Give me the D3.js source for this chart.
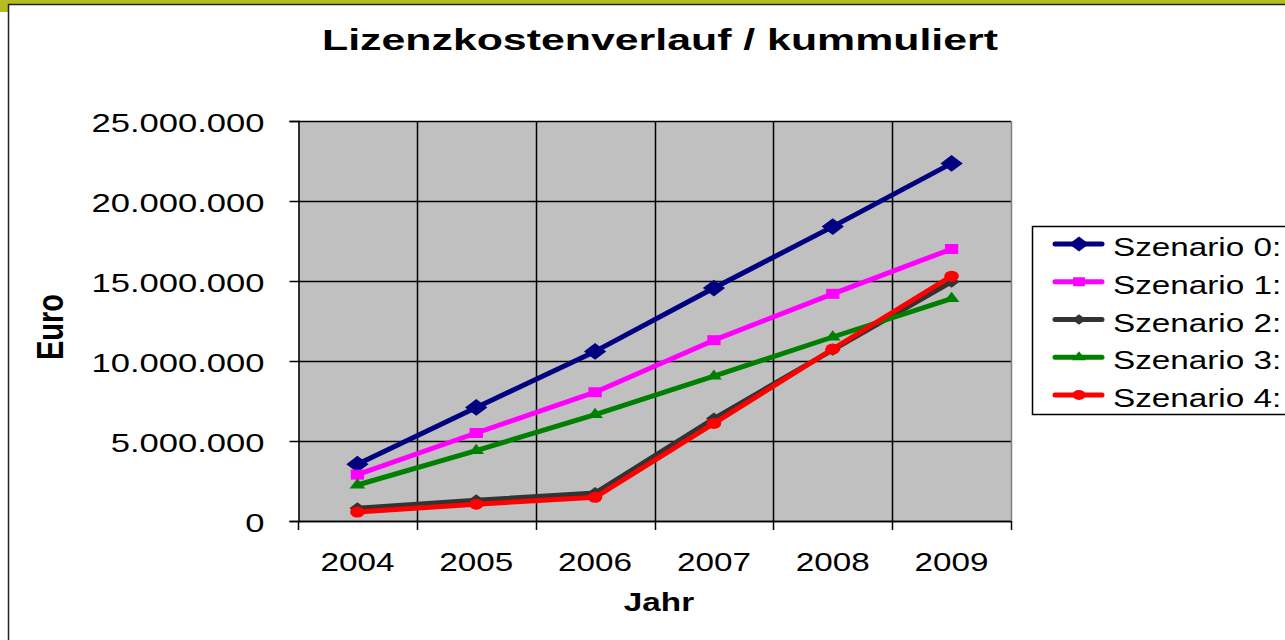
<!DOCTYPE html>
<html>
<head>
<meta charset="utf-8">
<script src="https://cdn.jsdelivr.net/npm/d3@7"></script>
<style>
  html, body { margin: 0; padding: 0; background: #fff; }
  svg { display: block; font-family: "Liberation Sans", Arial, sans-serif; }
</style>
</head>
<body>
<svg id="chart" width="1285" height="640"></svg>
<script>
// data
const years = ['2004', '2005', '2006', '2007', '2008', '2009'];
const seriesNames = ['Szenario 0:', 'Szenario 1:', 'Szenario 2:', 'Szenario 3:', 'Szenario 4:'];
const szenario0 = [3550000, 7100000, 10600000, 14560000, 18400000, 22350000];
const szenario1 = [2900000, 5500000, 8050000, 11300000, 14200000, 17000000];
const szenario2 = [800000, 1300000, 1750000, 6400000, 10700000, 14950000];
const szenario3 = [2250000, 4400000, 6650000, 9050000, 11500000, 13900000];
const szenario4 = [560000, 1050000, 1480000, 6100000, 10750000, 15300000];
const yTicks = [0, 5000000, 10000000, 15000000, 20000000, 25000000];

const COLORS = ['#000080', '#ff00ff', '#333333', '#008000', '#ff0000'];
const SYMBOLS = [d3.symbolSquare, d3.symbolSquare, d3.symbolSquare, d3.symbolTriangle, d3.symbolCircle];
const SYM_SIZE = [140, 100, 72, 60, 95];
const SYM_ROT = [45, 0, 45, 0, 0];

// the whole picture is a bit wider than tall
const SX = 1.33;

const series = seriesNames.map((name, i) => ({
    name: name,
    values: [szenario0, szenario1, szenario2, szenario3, szenario4][i],
    color: COLORS[i],
    symbol: SYMBOLS[i],
    size: SYM_SIZE[i],
    rot: SYM_ROT[i]
}));

const root = d3.select('#chart');

const PLOT_LEFT = 298;
const PLOT_RIGHT = 1011;
const PLOT_TOP = 121;
const PLOT_BOTTOM = 521;

function stretch(sel, factor) {
    sel.each(function () {
        const w = this.getComputedTextLength();
        d3.select(this)
            .attr('textLength', w * factor)
            .attr('lengthAdjust', 'spacingAndGlyphs');
    });
}

function markerTransform(cx, cy, s) {
    return `translate(${cx},${cy}) scale(${SX},1) rotate(${s.rot})`;
}

// frame
root.append('rect')
    .attr('x', 0).attr('y', 0).attr('width', 1285).attr('height', 4)
    .attr('fill', '#b4bf1e');
root.append('rect')
    .attr('x', 0).attr('y', 0).attr('width', 8).attr('height', 12)
    .attr('fill', '#b4bf1e');
root.append('rect')
    .attr('x', 8.5).attr('y', 4.5).attr('width', 1290).attr('height', 650)
    .attr('fill', '#fff')
    .attr('stroke', '#222')
    .attr('stroke-width', 1.5);

const x = d3.scaleBand()
    .domain(years)
    .range([PLOT_LEFT, PLOT_RIGHT]);

const y = d3.scaleLinear()
    .domain([0, 25000000])
    .range([PLOT_BOTTOM, PLOT_TOP]);

// plot background
root.append('rect')
    .attr('x', PLOT_LEFT).attr('y', PLOT_TOP)
    .attr('width', PLOT_RIGHT - PLOT_LEFT).attr('height', PLOT_BOTTOM - PLOT_TOP)
    .attr('fill', '#c0c0c0');

// grid lines
root.append('g')
    .selectAll('line')
    .data(yTicks)
    .join('line')
    .attr('x1', PLOT_LEFT).attr('x2', PLOT_RIGHT)
    .attr('y1', d => Math.round(y(d)) + 0.5).attr('y2', d => Math.round(y(d)) + 0.5)
    .attr('stroke', '#000').attr('stroke-width', 1.5);

root.append('g')
    .selectAll('line')
    .data(years.slice(1))
    .join('line')
    .attr('x1', d => Math.round(x(d)) + 0.5).attr('x2', d => Math.round(x(d)) + 0.5)
    .attr('y1', PLOT_TOP).attr('y2', PLOT_BOTTOM)
    .attr('stroke', '#000').attr('stroke-width', 1.5);

root.append('line')
    .attr('x1', PLOT_RIGHT + 0.5).attr('x2', PLOT_RIGHT + 0.5)
    .attr('y1', PLOT_TOP).attr('y2', PLOT_BOTTOM)
    .attr('stroke', '#808080').attr('stroke-width', 1.5);

// y axis
const yAxis = d3.axisLeft(y)
    .tickValues(yTicks)
    .tickSize(9)
    .tickPadding(25)
    .tickFormat(d => d3.format(',')(d).replace(/,/g, '.'));

const gy = root.append('g')
    .attr('transform', `translate(${PLOT_LEFT + 0.5},0)`)
    .call(yAxis);
gy.selectAll('text')
    .attr('font-size', 26)
    .attr('fill', '#000')
    .attr('dy', 10)
    .attr('font-family', '"Liberation Sans", Arial, sans-serif')
    .call(stretch, SX);
gy.selectAll('line, path').attr('stroke', '#000').attr('stroke-width', 1.5);

// x axis
const xEdges = years.map(d => x(d)).concat([PLOT_RIGHT]);
const gx = root.append('g');
gx.append('line')
    .attr('x1', PLOT_LEFT).attr('x2', PLOT_RIGHT)
    .attr('y1', PLOT_BOTTOM + 0.5).attr('y2', PLOT_BOTTOM + 0.5)
    .attr('stroke', '#000').attr('stroke-width', 1.5);
gx.selectAll('line.tick')
    .data(xEdges)
    .join('line')
    .attr('class', 'tick')
    .attr('x1', d => Math.round(d) + 0.5).attr('x2', d => Math.round(d) + 0.5)
    .attr('y1', PLOT_BOTTOM).attr('y2', PLOT_BOTTOM + 9)
    .attr('stroke', '#000').attr('stroke-width', 1.5);
gx.selectAll('text')
    .data(years)
    .join('text')
    .text(d => d)
    .attr('x', d => x(d) + x.bandwidth() / 2)
    .attr('y', 571)
    .attr('text-anchor', 'middle')
    .attr('font-size', 25)
    .attr('fill', '#000')
    .call(stretch, SX);

// lines + markers
const line = d3.line()
    .x((d, i) => x(years[i]) + x.bandwidth() / 2)
    .y(d => y(d));

series.forEach(s => {
    const g = root.append('g');
    g.append('path')
        .datum(s.values)
        .attr('d', line)
        .attr('fill', 'none')
        .attr('stroke', s.color)
        .attr('stroke-width', 5)
        .attr('stroke-linejoin', 'round');
    g.selectAll('path.m')
        .data(s.values)
        .join('path')
        .attr('class', 'm')
        .attr('transform', (d, i) => markerTransform(x(years[i]) + x.bandwidth() / 2, y(d), s))
        .attr('d', d3.symbol().type(s.symbol).size(s.size))
        .attr('fill', s.color);
});

// titles
root.append('text')
    .text('Lizenzkostenverlauf  /  kummuliert')
    .attr('x', 660).attr('y', 50)
    .attr('text-anchor', 'middle')
    .attr('font-size', 30)
    .attr('font-weight', 'bold')
    .attr('fill', '#000')
    .attr('textLength', 676)
    .attr('lengthAdjust', 'spacingAndGlyphs');

root.append('text')
    .text('Jahr')
    .attr('x', 659).attr('y', 611)
    .attr('text-anchor', 'middle')
    .attr('font-size', 25)
    .attr('font-weight', 'bold')
    .attr('fill', '#000')
    .call(stretch, SX);

root.append('text')
    .text('Euro')
    .attr('transform', 'translate(63,327) rotate(-90) scale(1,1.25)')
    .attr('text-anchor', 'middle')
    .attr('font-size', 29)
    .attr('font-weight', 'bold')
    .attr('fill', '#000');

// legend
const legend = root.append('g');
legend.append('rect')
    .attr('x', 1032.5).attr('y', 226.5)
    .attr('width', 270).attr('height', 188)
    .attr('fill', '#fff')
    .attr('stroke', '#000')
    .attr('stroke-width', 1.5);

series.forEach((s, i) => {
    const cy = 244 + i * 37.75;
    legend.append('line')
        .attr('x1', 1055).attr('x2', 1102)
        .attr('y1', cy).attr('y2', cy)
        .attr('stroke', s.color)
        .attr('stroke-width', 5)
        .attr('stroke-linecap', 'round');
    legend.append('path')
        .attr('transform', markerTransform(1079, cy, s))
        .attr('d', d3.symbol().type(s.symbol).size(s.size * 0.8))
        .attr('fill', s.color);
    legend.append('text')
        .text(s.name)
        .attr('x', 1113).attr('y', cy + 12)
        .attr('font-size', 25)
        .attr('fill', '#000')
        .call(stretch, SX);
});
</script>
</body>
</html>
